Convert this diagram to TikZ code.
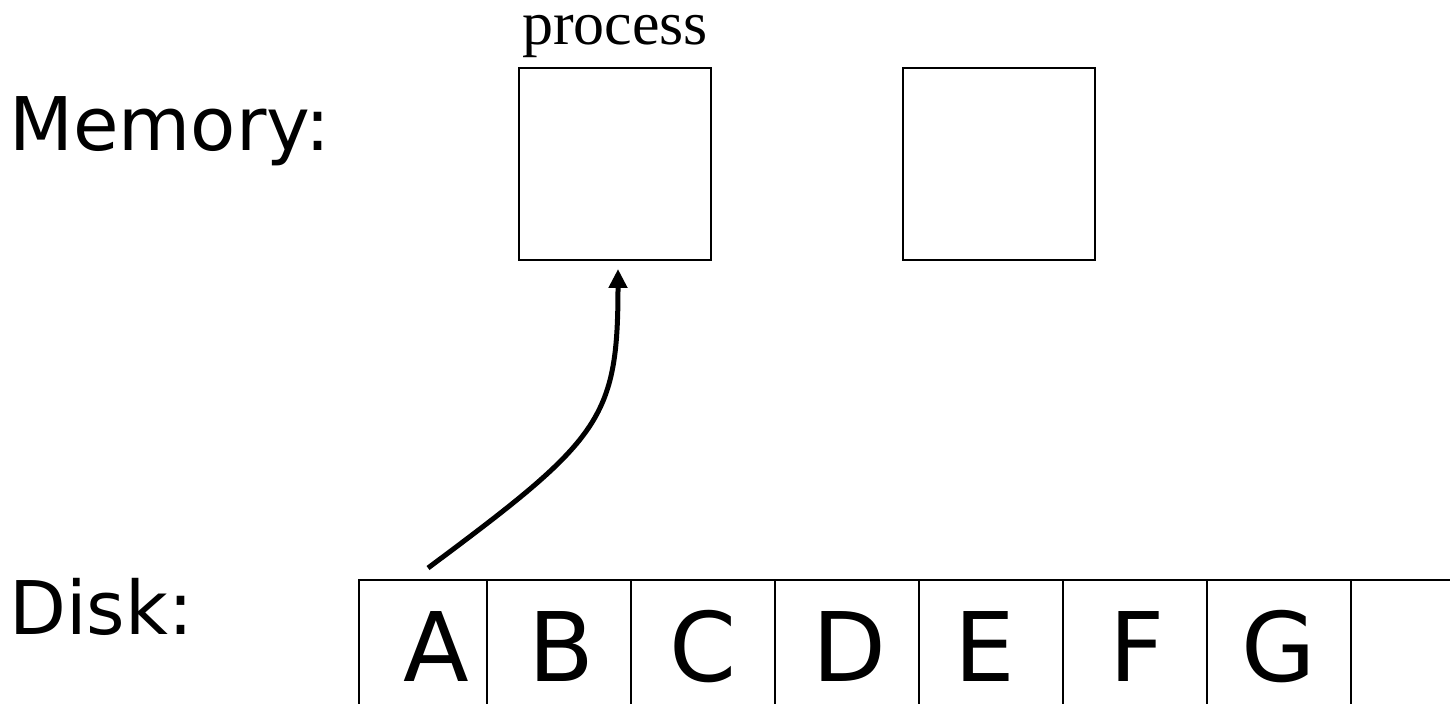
\documentclass[tikz,border=0pt]{standalone}
\usepackage{fontspec}
\setmainfont{Liberation Serif}
\newfontfamily\sansfam{DejaVu Sans}
\usetikzlibrary{arrows.meta}
\begin{document}
\begin{tikzpicture}[x=0.5pt,y=-0.5pt,
  membox/.style={draw,line width=1.2pt,minimum width=96pt,minimum height=96pt,inner sep=0pt,outer sep=0pt},
  diskcell/.style={draw,line width=1.2pt,inner sep=0pt,outer sep=0pt,anchor=north west,minimum height=70pt},
  biglabel/.style={font=\sansfam\fontsize{37}{42}\selectfont,inner sep=0pt,anchor=base west},
  letter/.style={font=\sansfam\fontsize{48}{56}\selectfont,inner sep=0pt,anchor=base},
  proclabel/.style={font=\fontsize{31}{36}\selectfont,inner sep=0pt,anchor=base,text height=0.5em},
  move/.style={line width=2.5pt,-{Triangle[length=9.5pt,width=9pt]}}]
\useasboundingbox (0,0) rectangle (1450,704);
\node[biglabel] (memlabel) at (9,151) {Memory:};
\node[biglabel] (disklabel) at (9,635) {Disk:};
\node[membox] (m1) at (615,164) {};
\node[membox] (m2) at (999,164) {};
\node[proclabel] (proc) at (615,45) {process};
% disk cells
\node[diskcell,minimum width=64pt] (c1) at (359,580) {};
\node[diskcell,minimum width=72pt] (c2) at (487,580) {};
\node[diskcell,minimum width=72pt] (c3) at (631,580) {};
\node[diskcell,minimum width=72pt] (c4) at (775,580) {};
\node[diskcell,minimum width=72pt] (c5) at (919,580) {};
\node[diskcell,minimum width=72pt] (c6) at (1063,580) {};
\node[diskcell,minimum width=72pt] (c7) at (1207,580) {};
\node[diskcell,minimum width=72pt] (c8) at (1351,580) {};
\node[letter] (la) at (436,682) {A};
\node[letter] (lb) at (561,682) {B};
\node[letter] (lc) at (703,682) {C};
\node[letter] (ld) at (849,682) {D};
\node[letter] (le) at (985,682) {E};
\node[letter] (lf) at (1137,682) {F};
\node[letter] (lg) at (1279,682) {G};
\coordinate (from) at (428,568);
\coordinate (to) at (618,269);
\draw[move] (from) .. controls (600,440) and (618,420) .. (to);
\end{tikzpicture}
\end{document}
